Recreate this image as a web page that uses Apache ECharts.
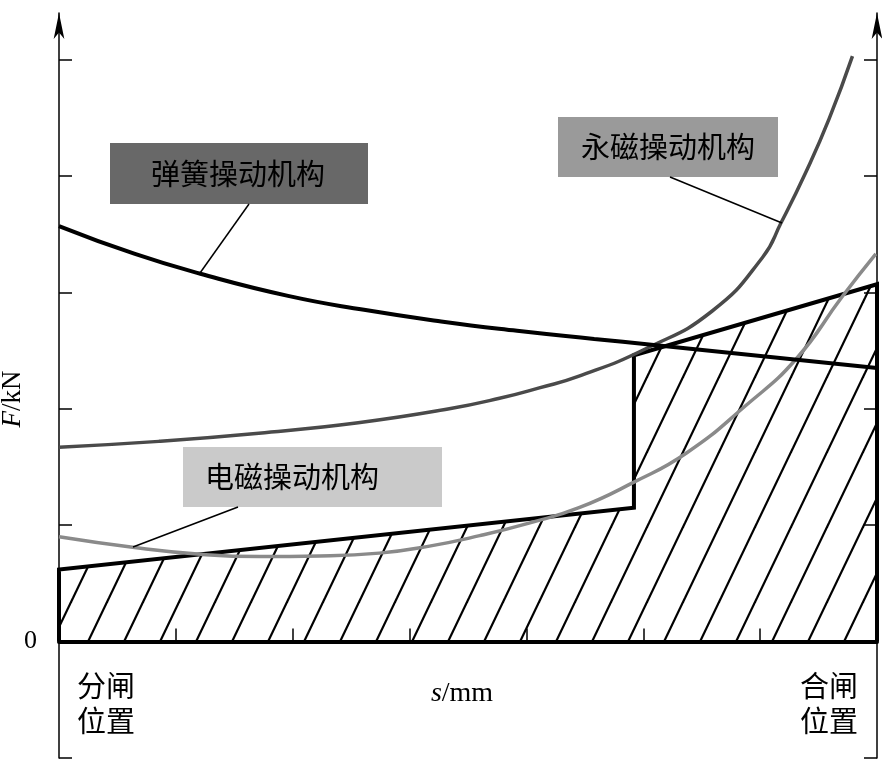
<!DOCTYPE html>
<html>
<head>
<meta charset="utf-8">
<script src="https://cdn.jsdelivr.net/npm/echarts@6/dist/echarts.min.js"></script>
<style>
  html, body { margin: 0; padding: 0; background: #fff; }
  #chart { width: 882px; height: 761px; }
</style>
</head>
<body>
<div id="chart"></div>
<script>
  // [s, F] pairs (one unit = one tick step)
  var springCurve = [[0, 3.57], [0.65, 3.33], [1.21, 3.16], [1.96, 2.97], [2.61, 2.85], [3.27, 2.75],
    [3.92, 2.67], [4.58, 2.60], [5.07, 2.55], [7, 2.35]];
  var pmCurve = [[0, 1.67], [0.855, 1.72], [1.71, 1.79], [2.56, 1.88], [3.34, 2.0], [3.77, 2.09],
    [4.11, 2.18], [4.45, 2.28], [5.03, 2.52], [5.59, 2.84], [6.02, 3.30], [6.18, 3.60], [6.39, 4.03],
    [6.59, 4.49], [6.79, 5.03]];
  var emCurve = [[0, 0.90], [0.63, 0.81], [1.21, 0.75], [1.72, 0.73], [2.23, 0.735], [2.74, 0.76],
    [3.17, 0.82], [3.60, 0.91], [4.03, 1.02], [4.45, 1.15], [4.92, 1.37], [5.37, 1.62], [5.88, 2.03],
    [6.31, 2.43], [6.70, 2.96], [6.99, 3.33]];
  // 负载反力（阴影区）
  var loadOutline = [[0, 0], [0, 0.62], [4.92, 1.15], [4.92, 2.46], [7, 3.07], [7, 0]];
  var yTicks = [-1, 1, 2, 3, 4, 5];
  var xTicks = [1, 2, 3, 4, 5, 6];
  var yLabels = [0];
  var names = ['弹簧操动机构', '永磁操动机构', '电磁操动机构'];

  var serif = 'Liberation Serif, DejaVu Serif, serif';
  var cjk = 'Noto Sans CJK SC, sans-serif';

  function hatch() {
    var w = 36, h = 75;
    var c = document.createElement('canvas');
    c.width = w; c.height = h;
    var ctx = c.getContext('2d');
    ctx.strokeStyle = '#000';
    ctx.lineWidth = 2.2;
    for (var k = -1; k <= 1; k++) {
      ctx.beginPath();
      ctx.moveTo(k * w - w, 2 * h);
      ctx.lineTo(k * w + 2 * w, -h);
      ctx.stroke();
    }
    return c;
  }

  function yAxisOf(pos) {
    return {
      type: 'value',
      position: pos,
      min: -1,
      max: 5.4,
      interval: 1,
      axisLine: {
        show: true, onZero: false,
        symbol: ['none', 'arrow'], symbolSize: [8, 26],
        lineStyle: { color: '#000', width: 1.5 }
      },
      axisTick: { show: true, inside: true, length: 13, customValues: yTicks, lineStyle: { color: '#000', width: 1.5 } },
      axisLabel: pos === 'left'
        ? { show: true, customValues: yLabels, margin: 22, color: '#000', fontFamily: serif, fontSize: 26 }
        : { show: false },
      splitLine: { show: false }
    };
  }

  function callout(x, y, w, h, fill, text, tx, from, to) {
    return [
      { type: 'rect', shape: { x: x, y: y, width: w, height: h }, style: { fill: fill }, z: 10 },
      { type: 'text', x: tx, y: y + h / 2, style: { text: text, fill: '#000', font: '29px ' + cjk, align: 'center', verticalAlign: 'middle' }, z: 11 },
      { type: 'line', shape: { x1: from[0], y1: from[1], x2: to[0], y2: to[1] }, style: { stroke: '#000', lineWidth: 1.5 }, z: 10 }
    ];
  }

  var chart = echarts.init(document.getElementById('chart'));
  chart.setOption({
    animation: false,
    backgroundColor: '#fff',
    grid: { left: 59, right: 5, top: 13, bottom: 3, outerBoundsMode: 'none' },
    xAxis: {
      type: 'value',
      min: 0,
      max: 7,
      interval: 1,
      axisLine: { show: true, onZero: true, onZeroAxisIndex: 0, lineStyle: { color: '#000', width: 4 } },
      axisTick: { show: true, inside: true, length: 13, customValues: xTicks, lineStyle: { color: '#000', width: 1.5 } },
      axisLabel: { show: false },
      splitLine: { show: false }
    },
    yAxis: [yAxisOf('left'), yAxisOf('right')],
    series: [
      {
        type: 'line',
        data: loadOutline,
        symbol: 'none',
        lineStyle: { color: '#000', width: 4, join: 'miter' },
        areaStyle: { color: { image: hatch(), repeat: 'repeat' }, opacity: 1 },
        z: 2
      },
      {
        name: names[2],
        type: 'line',
        data: emCurve,
        smooth: 0.5,
        symbol: 'none',
        lineStyle: { color: '#8a8a8a', width: 3.5 },
        z: 3
      },
      {
        name: names[1],
        type: 'line',
        data: pmCurve,
        smooth: 0.5,
        symbol: 'none',
        lineStyle: { color: '#4a4a4a', width: 3.5 },
        z: 3
      },
      {
        name: names[0],
        type: 'line',
        data: springCurve,
        smooth: 0.5,
        symbol: 'none',
        lineStyle: { color: '#000', width: 4 },
        z: 4
      }
    ],
    graphic: [].concat(
      callout(110, 143, 258, 61, '#686868', names[0], 238, [249, 204], [200, 273]),
      callout(558, 117, 220, 60, '#9a9a9a', names[1], 668, [670, 177], [782, 223]),
      callout(183, 447, 259, 60, '#cacaca', names[2], 292, [238, 507], [133, 547]),
      [
        { type: 'text', x: 13, y: 399, rotation: Math.PI / 2,
          style: { text: '{i|F}/kN', fill: '#000', font: '27px ' + serif, align: 'center', verticalAlign: 'middle',
            rich: { i: { fontStyle: 'italic', fontFamily: serif, fontSize: 27 } } } },
        { type: 'text', x: 462, y: 694,
          style: { text: '{i|s}/mm', fill: '#000', font: '28px ' + serif, align: 'center', verticalAlign: 'middle',
            rich: { i: { fontStyle: 'italic', fontFamily: serif, fontSize: 28 } } } },
        { type: 'text', x: 77, y: 703,
          style: { text: '分闸\n位置', fill: '#000', font: '29px ' + cjk, lineHeight: 35, align: 'left', verticalAlign: 'middle' } },
        { type: 'text', x: 858, y: 703,
          style: { text: '合闸\n位置', fill: '#000', font: '29px ' + cjk, lineHeight: 35, align: 'right', verticalAlign: 'middle' } }
      ]
    )
  });
</script>
</body>
</html>
